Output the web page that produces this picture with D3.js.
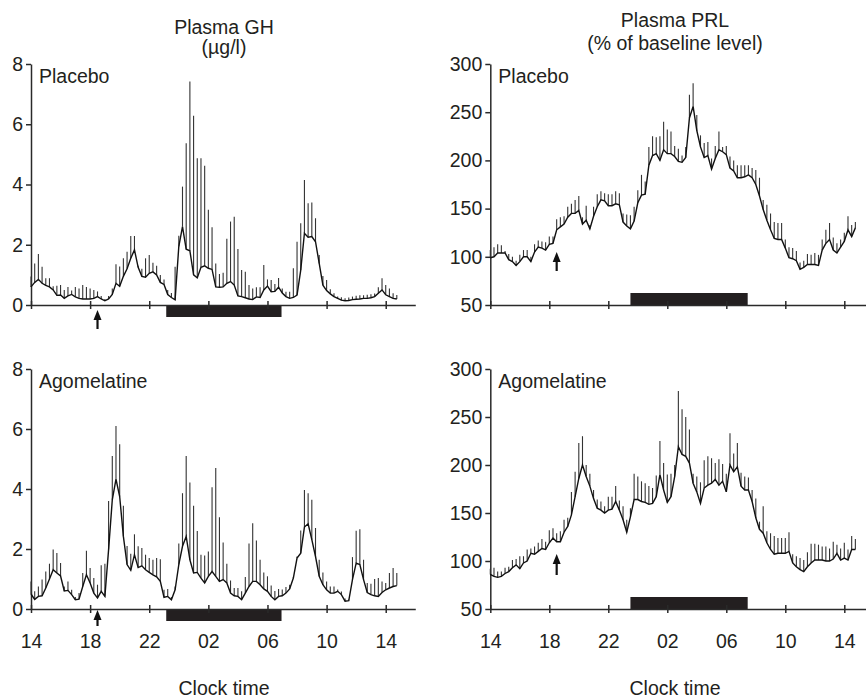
<!DOCTYPE html>
<html>
<head>
<meta charset="utf-8">
<script src="https://cdn.jsdelivr.net/npm/d3@7"></script>
<style>
  body { margin: 0; background: #fff; }
  svg text { font-family: "Liberation Sans", Arial, sans-serif; fill: #231f20; }
</style>
</head>
<body>
<svg width="866" height="698"></svg>
<script>
// samples every 15 min, starting 14:00 (hours after 14:00)
const sampleHours = d3.range(100).map(i => i * 0.25);
const xTickHours = [0, 4, 8, 12, 16, 20, 24];
const xTickLabels = ["14", "18", "22", "02", "06", "10", "14"];
const ghTicks = [0, 2, 4, 6, 8];
const prlTicks = [50, 100, 150, 200, 250, 300];

// Plasma GH (µg/l), mean and mean + SEM
const ghPlacebo = [0.6,0.75,0.85,0.72,0.65,0.6,0.5,0.32,0.33,0.22,0.3,0.35,0.27,0.22,0.2,0.2,0.2,0.22,0.28,0.2,
  0.14,0.2,0.35,0.72,0.62,0.95,1.2,1.55,1.83,1.25,0.95,0.92,1.05,1.1,1.0,0.75,0.68,0.35,0.25,0.17,
  1.94,2.6,1.85,1.8,1.0,0.9,1.25,1.3,1.22,1.18,0.6,0.59,0.6,0.72,0.78,0.66,0.3,0.28,0.24,0.2,
  0.18,0.27,0.25,0.5,0.63,0.44,0.45,0.59,0.4,0.28,0.22,0.25,0.33,1.16,2.38,2.25,2.27,2.1,1.38,0.66,
  0.48,0.37,0.28,0.22,0.16,0.14,0.15,0.18,0.19,0.2,0.22,0.22,0.24,0.28,0.39,0.5,0.34,0.28,0.22,0.2];
const ghPlaceboUpper = [0.95,1.38,1.69,1.27,0.89,0.89,0.62,0.64,0.66,0.5,0.6,0.48,0.6,0.55,0.66,0.6,0.55,0.5,0.45,0.3,
  0.2,0.3,0.55,1.35,1.28,1.55,1.77,2.29,2.29,1.3,1.2,1.55,1.66,1.4,1.3,1.0,0.85,0.5,0.4,1.27,
  2.3,3.93,5.37,7.42,6.28,4.87,4.87,4.62,3.16,2.58,1.38,1.03,1.07,2.2,2.77,2.93,1.86,1.16,1.1,0.66,
  0.55,0.59,0.59,1.33,0.85,0.83,0.7,0.9,0.55,0.44,0.44,1.22,2.1,2.71,4.15,3.38,3.4,2.88,1.66,0.96,
  0.83,0.52,0.39,0.28,0.26,0.22,0.25,0.28,0.31,0.32,0.32,0.34,0.36,0.38,0.59,0.89,0.66,0.55,0.39,0.33];
const ghAgomelatine = [0.5,0.32,0.42,0.44,0.7,1.0,1.31,1.2,1.1,0.6,0.62,0.48,0.31,0.33,0.75,1.14,0.87,0.53,0.37,0.59,
  0.42,1.98,3.64,4.33,3.75,2.42,1.48,1.29,1.81,1.38,1.44,1.31,1.22,1.14,1.07,0.92,0.39,0.42,0.31,0.64,
  1.48,2.09,2.42,1.64,1.2,1.22,1.03,0.87,1.09,1.25,1.09,0.92,0.98,0.87,0.53,0.44,0.42,0.31,0.53,0.75,
  0.92,0.92,0.81,0.67,0.59,0.42,0.31,0.42,0.44,0.53,0.67,1.03,1.7,1.86,2.73,2.84,2.31,1.75,1.09,0.81,
  0.64,0.53,0.53,0.59,0.48,0.26,0.28,0.98,1.53,1.48,0.98,0.55,0.48,0.44,0.42,0.55,0.64,0.7,0.75,0.78];
const ghAgomelatineUpper = [0.92,0.59,0.75,0.98,1.25,1.51,1.98,1.87,1.53,0.75,0.92,0.64,0.4,0.53,1.2,1.94,1.37,1.03,0.81,1.46,
  1.51,3.6,5.1,6.1,5.49,3.44,2.1,1.84,2.49,2.09,2.03,1.81,1.7,1.64,1.7,1.66,0.64,0.67,0.4,0.75,
  2.18,3.86,5.1,4.22,3.44,2.6,1.81,1.78,1.92,4.06,4.7,3.06,2.22,1.51,0.95,0.7,0.7,0.59,1.07,2.18,
  2.86,2.28,1.64,1.22,1.09,0.78,0.6,0.67,0.65,0.73,0.81,1.05,1.75,2.62,3.97,3.86,3.64,2.7,1.64,1.22,
  0.92,0.75,0.75,0.65,0.58,0.35,0.32,1.73,2.61,2.66,1.64,0.87,0.84,1.0,1.03,0.92,0.87,1.2,1.37,1.2];

// Plasma PRL (% of baseline level), mean and mean + SEM
const prlPlacebo = [99,100,104,104,104,97,95,91,95,100,100,95,105,110,109,107,113,114,128,131,
  134,141,145,145,148,134,138,129,142,152,159,158,153,153,155,154,136,132,129,137,
  156,164,165,195,205,207,200,211,207,207,204,199,198,203,244,256,231,214,203,205,
  191,202,211,209,206,192,189,182,182,183,185,182,175,163,149,138,128,119,118,118,
  109,99,98,96,87,89,92,92,92,91,107,114,118,107,104,110,116,128,121,130];
const prlPlaceboUpper = [107,110,113,112,106,103,100,96,102,107,107,100,113,117,116,115,121,121,139,141,
  142,152,155,159,163,141,153,133,152,165,168,166,165,165,168,166,145,144,143,152,
  169,185,178,214,225,224,225,240,232,230,215,212,205,214,268,280,247,226,218,219,
  202,215,230,214,215,204,200,195,195,195,195,192,190,182,159,154,145,136,135,135,
  118,110,109,106,94,96,103,102,104,102,118,128,135,120,114,118,125,142,133,136];
const prlAgomelatine = [86,84,83,84,87,89,93,96,92,98,100,108,107,110,113,112,119,124,120,120,
  130,136,148,167,186,200,188,178,165,155,153,150,153,154,162,153,143,130,146,164,
  164,162,161,159,160,167,190,174,161,167,188,219,211,209,202,181,172,160,176,179,
  181,185,179,183,172,200,193,198,178,174,174,162,145,133,129,119,112,107,108,108,
  108,110,98,94,91,89,94,98,101,101,101,100,100,102,108,101,103,101,112,112];
const prlAgomelatineUpper = [92,93,89,89,93,94,101,102,105,105,112,113,115,119,123,120,132,134,129,131,
  143,145,172,193,223,230,200,191,174,164,162,157,167,167,178,163,157,143,155,191,
  188,183,181,178,176,189,225,202,190,191,200,277,258,250,237,191,188,182,205,209,
  207,202,206,201,191,233,212,223,192,188,187,174,165,141,157,131,129,126,124,124,
  124,130,107,105,103,101,109,118,118,117,115,115,113,120,117,113,119,112,126,123];

const ghSleep = [9.15, 16.95];   // black bar, hours after 14:00
const prlSleep = [9.5, 17.45];
const dosingHour = 4.5;          // arrow, 18:30

const svg = d3.select("svg");

const panels = [
  { name: "Placebo", mean: ghPlacebo, upper: ghPlaceboUpper, x0: 31, pxh: 14.78, top: 64, bottom: 305,
    domain: [0, 8], ticks: ghTicks, sleep: ghSleep, sleepBelow: true, arrow: [5, 24], labels: false },
  { name: "Agomelatine", mean: ghAgomelatine, upper: ghAgomelatineUpper, x0: 31, pxh: 14.78, top: 369, bottom: 609,
    domain: [0, 8], ticks: ghTicks, sleep: ghSleep, sleepBelow: true, arrow: [1, 17], labels: true },
  { name: "Placebo", mean: prlPlacebo, upper: prlPlaceboUpper, x0: 490.3, pxh: 14.75, top: 64, bottom: 305,
    domain: [50, 300], ticks: prlTicks, sleep: prlSleep, sleepBelow: false, arrow: [-53, -34], labels: false },
  { name: "Agomelatine", mean: prlAgomelatine, upper: prlAgomelatineUpper, x0: 490.3, pxh: 14.75, top: 369, bottom: 609,
    domain: [50, 300], ticks: prlTicks, sleep: prlSleep, sleepBelow: false, arrow: [-55, -34], labels: true }
];

panels.forEach(p => {
  const x = d3.scaleLinear().domain([0, 26]).range([p.x0, p.x0 + 26 * p.pxh]);
  const y = d3.scaleLinear().domain(p.domain).range([p.bottom, p.top]);
  const g = svg.append("g");

  // sleep period bar
  g.append("rect")
    .attr("x", x(p.sleep[0]))
    .attr("y", p.sleepBelow ? p.bottom : p.bottom - 12)
    .attr("width", x(p.sleep[1]) - x(p.sleep[0]))
    .attr("height", 12)
    .attr("fill", "#231f20");

  // y axis
  const ya = g.append("g")
    .attr("transform", `translate(${p.x0},0)`)
    .call(d3.axisLeft(y).tickValues(p.ticks).tickSize(5).tickSizeOuter(0).tickPadding(3));
  ya.selectAll("text").style("font-size", "19.5px");

  // x axis
  const xa = g.append("g")
    .attr("transform", `translate(0,${p.bottom})`)
    .call(d3.axisBottom(x).tickValues(xTickHours).tickSizeOuter(0)
      .tickFormat((d, i) => xTickLabels[i]));
  xa.selectAll(".tick line").attr("y1", -4).attr("y2", 4);
  if (p.labels) {
    xa.selectAll("text").attr("y", 39).attr("dy", null).style("font-size", "19.5px");
  } else {
    xa.selectAll("text").remove();
  }
  g.selectAll(".domain, .tick line").attr("stroke", "#2a2a2a").attr("stroke-width", 1.5);

  // error bars (mean to mean + SEM)
  g.append("g").selectAll("line")
    .data(p.mean)
    .join("line")
    .attr("x1", (d, i) => x(sampleHours[i]))
    .attr("x2", (d, i) => x(sampleHours[i]))
    .attr("y1", d => y(d))
    .attr("y2", (d, i) => y(Math.max(d, p.upper[i])))
    .attr("stroke", "#333")
    .attr("stroke-width", 1.1);

  // mean line
  g.append("path")
    .datum(p.mean)
    .attr("fill", "none")
    .attr("stroke", "#111")
    .attr("stroke-width", 1.4)
    .attr("d", d3.line().x((d, i) => x(sampleHours[i])).y(d => y(d)));

  // dosing arrow
  const ax = x(dosingHour);
  const tip = p.bottom + p.arrow[0], tail = p.bottom + p.arrow[1];
  g.append("line")
    .attr("x1", ax).attr("x2", ax)
    .attr("y1", tip + 8).attr("y2", tail)
    .attr("stroke", "#111").attr("stroke-width", 2.2);
  g.append("path")
    .attr("d", `M${ax},${tip} L${ax - 4},${tip + 10} L${ax + 4},${tip + 10} Z`)
    .attr("fill", "#111");

  // group label
  g.append("text")
    .attr("x", p.x0 + 8)
    .attr("y", p.top + 19)
    .style("font-size", "19.5px")
    .text(p.name);
});

// titles
const titles = [
  { x: 224, y: 34, t: "Plasma GH" },
  { x: 224, y: 54, t: "(µg/l)" },
  { x: 675, y: 27, t: "Plasma PRL" },
  { x: 675, y: 50, t: "(% of baseline level)" },
  { x: 224, y: 695, t: "Clock time" },
  { x: 675, y: 695, t: "Clock time" }
];
svg.selectAll(".title")
  .data(titles)
  .join("text")
  .attr("class", "title")
  .attr("x", d => d.x)
  .attr("y", d => d.y)
  .attr("text-anchor", "middle")
  .style("font-size", "19.5px")
  .text(d => d.t);
</script>
</body>
</html>
